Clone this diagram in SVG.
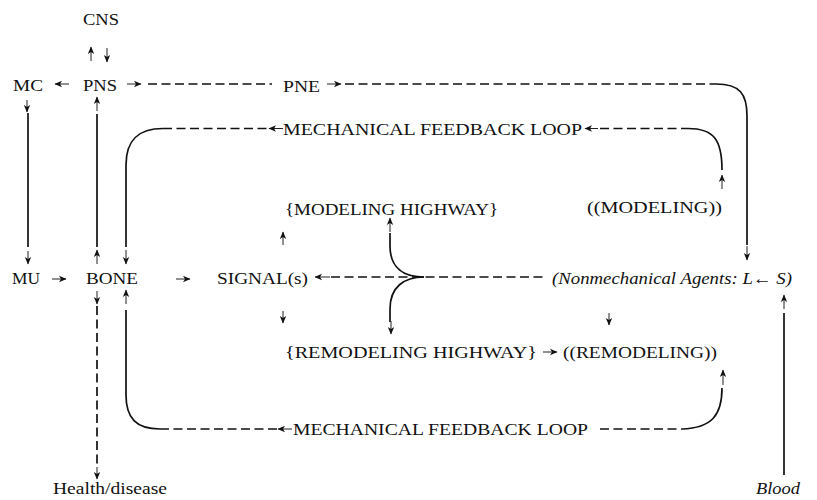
<svg xmlns="http://www.w3.org/2000/svg" width="817" height="500" viewBox="0 0 817 500">
  <defs>
    <marker id="head" viewBox="0 0 8 8" refX="7" refY="4" markerWidth="8" markerHeight="8" markerUnits="userSpaceOnUse" orient="auto">
      <path d="M0,0.8 L7.5,4 L0,7.2 L2,4 z" fill="#111"/>
    </marker>
    <style>
      text { font-family: "Liberation Serif", "Times New Roman", serif; font-size: 17px; fill: #111; }
      .it { font-style: italic; }
      .solid { fill: none; stroke: #111; stroke-width: 1.7; }
      .dash { fill: none; stroke: #111; stroke-width: 1.7; stroke-dasharray: 9 4.5; }
      .tip { fill: none; stroke: #222; stroke-width: 1; marker-end: url(#head); }
    </style>
  </defs>
  <rect width="817" height="500" fill="#fff"/>

  <!-- nodes -->
  <g id="cns"><text x="83" y="25" textLength="36" lengthAdjust="spacingAndGlyphs">CNS</text></g>
  <g id="mc"><text x="13" y="91" textLength="30" lengthAdjust="spacingAndGlyphs">MC</text></g>
  <g id="pns"><text x="83" y="91" textLength="34" lengthAdjust="spacingAndGlyphs">PNS</text></g>
  <g id="pne"><text x="283" y="92" textLength="37" lengthAdjust="spacingAndGlyphs">PNE</text></g>
  <g id="feedback-top"><text x="283" y="135" textLength="299" lengthAdjust="spacingAndGlyphs">MECHANICAL FEEDBACK LOOP</text></g>
  <g id="modeling-highway"><text x="285" y="215" textLength="213" lengthAdjust="spacingAndGlyphs">{MODELING HIGHWAY}</text></g>
  <g id="modeling"><text x="587" y="213" textLength="135" lengthAdjust="spacingAndGlyphs">((MODELING))</text></g>
  <g id="mu"><text x="12" y="284" textLength="28" lengthAdjust="spacingAndGlyphs">MU</text></g>
  <g id="bone"><text x="86" y="284" textLength="52" lengthAdjust="spacingAndGlyphs">BONE</text></g>
  <g id="signals"><text x="217" y="284" textLength="91" lengthAdjust="spacingAndGlyphs">SIGNAL(s)</text></g>
  <g id="agents"><text class="it" x="552" y="284" textLength="240" lengthAdjust="spacingAndGlyphs">(Nonmechanical Agents: L← S)</text></g>
  <g id="remodeling-highway"><text x="285" y="358" textLength="252" lengthAdjust="spacingAndGlyphs">{REMODELING HIGHWAY}</text></g>
  <g id="remodeling"><text x="563" y="358" textLength="154" lengthAdjust="spacingAndGlyphs">((REMODELING))</text></g>
  <g id="feedback-bottom"><text x="293" y="435" textLength="295" lengthAdjust="spacingAndGlyphs">MECHANICAL FEEDBACK LOOP</text></g>
  <g id="health"><text x="53" y="494" textLength="114" lengthAdjust="spacingAndGlyphs">Health/disease</text></g>
  <g id="blood"><text class="it" x="756" y="494" textLength="44" lengthAdjust="spacingAndGlyphs">Blood</text></g>

  <!-- connectors -->
  <g id="connectors">
    <!-- PNS to PNE to nonmechanical agents -->
    <path class="dash" d="M148,84 H272"/>
    <path class="dash" d="M345,84 H716"/>
    <path class="solid" d="M716,84 C740,84 747,94 747,116 V245"/>
    <!-- upper feedback loop -->
    <path class="dash" d="M163,128.5 H269"/>
    <path class="solid" d="M126,247 V165 C126,140 138,128.5 163,128.5"/>
    <path class="dash" d="M600,128.5 H688"/>
    <path class="solid" d="M688,128.5 C714,128.5 722,140 722,170"/>
    <!-- MC to MU, BONE to PNS -->
    <path class="solid" d="M28,113 V247"/>
    <path class="solid" d="M97,114 V247"/>
    <!-- signal pathway and highways fork -->
    <path class="dash" d="M331,277 H545"/>
    <path class="solid" d="M390,233 V246 C390,268 404,277 424,277"/>
    <path class="solid" d="M424,277 C404,277 390,287 390,309 V322"/>
    <!-- lower feedback loop -->
    <path class="solid" d="M126,310 V395 C126,418 136,429 160,429"/>
    <path class="dash" d="M160,429 H278"/>
    <path class="dash" d="M600,429 H682"/>
    <path class="solid" d="M682,429 C712,428 722,415 722,388"/>
    <!-- bone to health/disease, blood to agents -->
    <path class="dash" d="M97,306 V468"/>
    <path class="solid" d="M784,313 V475"/>

    <!-- short arrows -->
    <path class="tip" d="M91,61 V47"/>
    <path class="tip" d="M107,48 V62"/>
    <path class="tip" d="M69,84 H55"/>
    <path class="tip" d="M127,84 H141"/>
    <path class="tip" d="M327,84 H341"/>
    <path class="tip" d="M27,100 V112"/>
    <path class="tip" d="M97,111 V97"/>
    <path class="tip" d="M283,128.5 H269"/>
    <path class="tip" d="M598,128.5 H585"/>
    <path class="tip" d="M722,189 V175"/>
    <path class="tip" d="M747,246 V260"/>
    <path class="tip" d="M28,251 V264"/>
    <path class="tip" d="M97,264 V250"/>
    <path class="tip" d="M126,250 V264"/>
    <path class="tip" d="M52,279 H66"/>
    <path class="tip" d="M176,279 H190"/>
    <path class="tip" d="M330,277 H315"/>
    <path class="tip" d="M283,245 V232"/>
    <path class="tip" d="M283,311 V323"/>
    <path class="tip" d="M390,232 V218"/>
    <path class="tip" d="M391,321 V334"/>
    <path class="tip" d="M609,313 V325"/>
    <path class="tip" d="M543,352 H557"/>
    <path class="tip" d="M723,385 V370"/>
    <path class="tip" d="M784,309 V295"/>
    <path class="tip" d="M97,291 V304"/>
    <path class="tip" d="M126,304 V290"/>
    <path class="tip" d="M97,467 V479"/>
    <path class="tip" d="M292,429 H278"/>
  </g>
</svg>
